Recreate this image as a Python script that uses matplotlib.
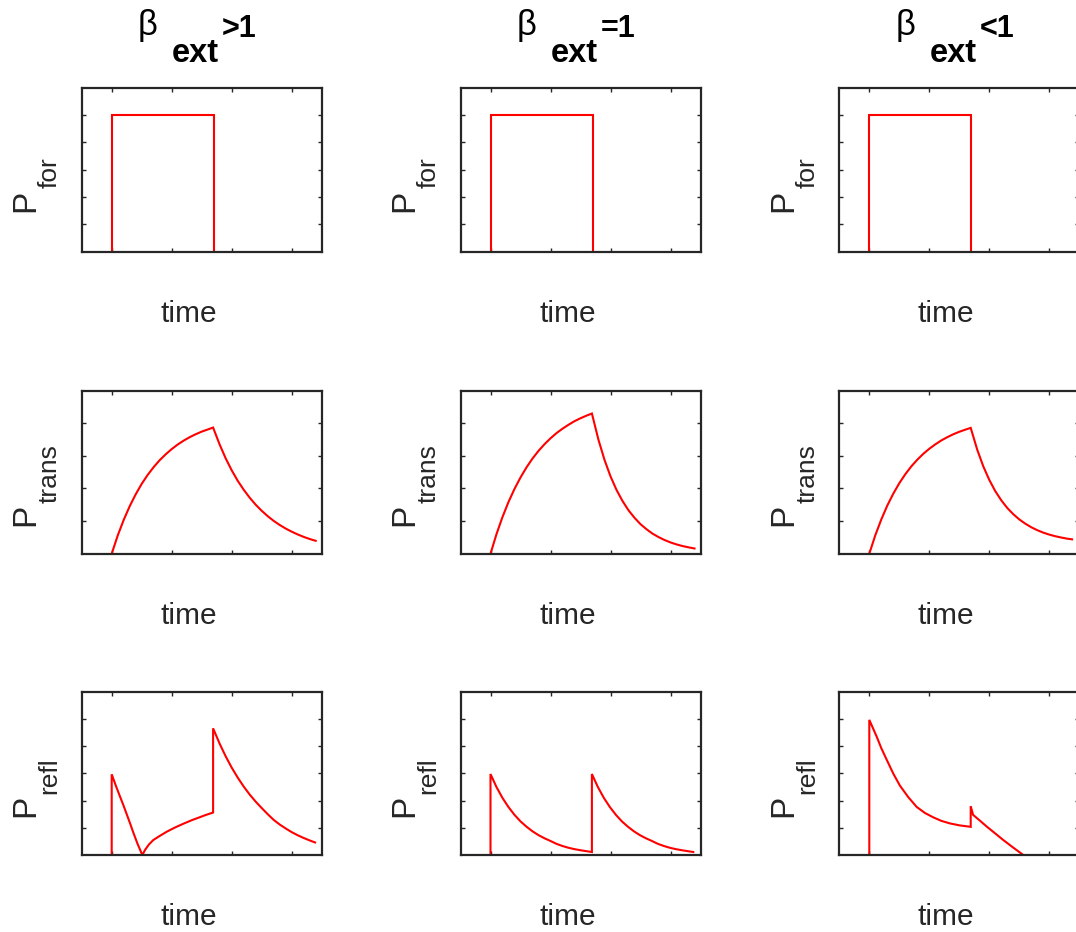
import matplotlib
matplotlib.use("Agg")
import matplotlib.pyplot as plt

plt.rcParams["font.family"] = ["Liberation Sans", "DejaVu Sans"]

# ---- data -------------------------------------------------------------
conditions = [">1", "=1", "<1"]
row_names = ["for", "trans", "refl"]

# forward pulse (same in every column)
t_for = [0.0, 0.0, 1.7, 1.7]
p_for = [0.0, 1.0, 1.0, 0.0]

# transmitted power, one series per coupling case
t_trans_over = [0.0, 0.1, 0.2, 0.3, 0.4, 0.5, 0.6, 0.7, 0.8, 0.9, 1.0, 1.1,
                1.2, 1.3, 1.4, 1.5, 1.6, 1.69,
                1.8, 1.9, 2.0, 2.1, 2.2, 2.3, 2.4, 2.5, 2.6, 2.7, 2.8, 2.9,
                3.0, 3.1, 3.2, 3.3, 3.4]
p_trans_over = [0.0, 0.111, 0.207, 0.291, 0.364, 0.428, 0.483, 0.531, 0.573,
                0.609, 0.641, 0.669, 0.693, 0.714, 0.732, 0.748, 0.761, 0.773,
                0.668, 0.584, 0.511, 0.447, 0.392, 0.343, 0.300, 0.263, 0.230,
                0.201, 0.176, 0.154, 0.135, 0.118, 0.103, 0.090, 0.079]

t_trans_crit = [0.0, 0.1, 0.2, 0.3, 0.4, 0.5, 0.6, 0.7, 0.8, 0.9, 1.0, 1.1,
                1.2, 1.3, 1.4, 1.5, 1.6, 1.69,
                1.8, 1.9, 2.0, 2.1, 2.2, 2.3, 2.4, 2.5, 2.6, 2.7, 2.8, 2.9,
                3.0, 3.1, 3.2, 3.3, 3.4]
p_trans_crit = [0.0, 0.120, 0.225, 0.317, 0.397, 0.467, 0.529, 0.583, 0.630,
                0.671, 0.707, 0.739, 0.766, 0.790, 0.812, 0.830, 0.846, 0.859,
                0.697, 0.575, 0.474, 0.391, 0.323, 0.266, 0.220, 0.181, 0.150,
                0.123, 0.102, 0.084, 0.069, 0.057, 0.047, 0.039, 0.032]

t_trans_under = [0.0, 0.1, 0.2, 0.3, 0.4, 0.5, 0.6, 0.7, 0.8, 0.9, 1.0, 1.1,
                 1.2, 1.3, 1.4, 1.5, 1.6, 1.69,
                 1.8, 1.9, 2.0, 2.1, 2.2, 2.3, 2.4, 2.5, 2.6, 2.7, 2.8, 2.9,
                 3.0, 3.1, 3.2, 3.3, 3.38]
p_trans_under = [0.0, 0.113, 0.210, 0.295, 0.368, 0.432, 0.487, 0.535, 0.576,
                 0.612, 0.643, 0.670, 0.694, 0.714, 0.732, 0.747, 0.760, 0.771,
                 0.636, 0.535, 0.452, 0.383, 0.327, 0.280, 0.242, 0.210, 0.184,
                 0.162, 0.144, 0.129, 0.117, 0.107, 0.099, 0.092, 0.088]

# reflected power
t_refl_over = [0.0, 0.0, 0.07, 0.138, 0.2, 0.25, 0.31, 0.36, 0.43, 0.51,
               0.56, 0.62, 0.693, 0.8, 0.917, 1.05, 1.19, 1.33, 1.47, 1.58,
               1.69, 1.69, 1.8, 1.9, 2.0, 2.1, 2.2, 2.3, 2.4, 2.5, 2.6, 2.7,
               2.8, 2.9, 3.0, 3.1, 3.2, 3.3, 3.39]
p_refl_over = [0.0, 0.593, 0.508, 0.43, 0.36, 0.30, 0.228, 0.165, 0.083, 0.0,
               0.04, 0.077, 0.11, 0.14, 0.171, 0.201, 0.229, 0.255, 0.278,
               0.296, 0.312, 0.931, 0.817, 0.725, 0.642, 0.569, 0.503, 0.444,
               0.392, 0.345, 0.300, 0.258, 0.224, 0.195, 0.168, 0.145, 0.125,
               0.107, 0.092]

t_refl_crit = [0.0, 0.0, 0.1, 0.2, 0.3, 0.4, 0.5, 0.6, 0.7, 0.8, 0.9, 1.0,
               1.1, 1.2, 1.3, 1.4, 1.5, 1.6, 1.69,
               1.69, 1.79, 1.89, 1.99, 2.09, 2.19, 2.29, 2.39, 2.49, 2.59,
               2.69, 2.79, 2.89, 2.99, 3.09, 3.19, 3.29, 3.38]
p_refl_crit = [0.0, 0.595, 0.499, 0.419, 0.352, 0.295, 0.247, 0.208, 0.174,
               0.146, 0.123, 0.103, 0.082, 0.066, 0.053, 0.043, 0.035, 0.028,
               0.022,
               0.595, 0.499, 0.419, 0.352, 0.295, 0.247, 0.208, 0.174, 0.146,
               0.123, 0.103, 0.082, 0.066, 0.053, 0.043, 0.035, 0.028, 0.022]

t_refl_under = [0.0, 0.0, 0.06, 0.123, 0.2, 0.29, 0.4, 0.51, 0.65, 0.79,
                0.93, 1.07, 1.2, 1.345, 1.5, 1.69,
                1.69, 1.73, 1.85, 1.957, 2.1, 2.233, 2.4, 2.567]
p_refl_under = [0.0, 0.993, 0.933, 0.87, 0.785, 0.70, 0.598, 0.51, 0.425,
                0.353, 0.308, 0.276, 0.251, 0.232, 0.218, 0.207,
                0.359, 0.295, 0.250, 0.209, 0.158, 0.11, 0.054, 0.0]

series = [
    [(t_for, p_for), (t_for, p_for), (t_for, p_for)],
    [(t_trans_over, p_trans_over), (t_trans_crit, p_trans_crit),
     (t_trans_under, p_trans_under)],
    [(t_refl_over, p_refl_over), (t_refl_crit, p_refl_crit),
     (t_refl_under, p_refl_under)],
]

x_ticks = [0, 1, 2, 3]
y_ticks = [
    [0.2, 0.4, 0.6, 0.8, 1.0],
    [0.2, 0.4, 0.6, 0.8],
    [0.2, 0.4, 0.6, 0.8, 1.0],
]
y_limits = [(0, 1.2), (0, 1.0), (0, 1.2)]

# ---- layout (pixels) -------------------------------------------------
W, H = 1076, 932
col_left = [81.7, 460.5, 839.3]
ax_w = 240.0
row_top = [87.7, 390.5, 691.7]
row_bot = [251.7, 553.7, 855.0]
# anchor (bottom end) of the rotated "P" and of its subscript, per row
p_anchor = [211.6, 526.0, 817.0]
sub_anchor = [188.0, 502.5, 794.0]

ink = "#262626"
red = "#ff0000"

fig = plt.figure(figsize=(W / 100, H / 100), dpi=100)


def fx(px):
    return px / W


def fy(py):
    return 1 - py / H


for r in range(3):
    for c in range(3):
        left = col_left[c]
        ax = fig.add_axes([fx(left), fy(row_bot[r]), ax_w / W,
                           (row_bot[r] - row_top[r]) / H])
        t, p = series[r][c]
        ax.plot(t, p, color=red, lw=1.5, solid_joinstyle="miter")
        ax.set_xlim(-0.5, 3.5)
        ax.set_ylim(*y_limits[r])
        ax.set_xticks(x_ticks)
        ax.set_yticks(y_ticks[r])
        ax.set_xticklabels([])
        ax.set_yticklabels([])
        ax.tick_params(direction="in", length=3, width=1.0, color=ink,
                       top=True, right=True)
        for s in ax.spines.values():
            s.set_color(ink)
            s.set_linewidth(1.6)

        # x label
        cx = left + ax_w / 2 - 13
        fig.text(fx(cx), fy(row_bot[r] + 70), "time", ha="center",
                 va="baseline", fontsize=21.5, color=ink)

        # y label: P with a lowered subscript
        fig.text(fx(left - 47.4), fy(p_anchor[r]), "P", rotation=90,
                 rotation_mode="anchor", ha="left", va="baseline",
                 fontsize=24, color=ink)
        fig.text(fx(left - 25.0), fy(sub_anchor[r]), row_names[r],
                 rotation=90, rotation_mode="anchor", ha="left",
                 va="baseline", fontsize=19, color=ink)

# column titles: beta with a bold subscript and the comparison
for c in range(3):
    g0 = col_left[c] + ax_w / 2 - 3 - 60
    fig.text(fx(g0 - 1), fy(35.5), "\u03b2", ha="left", va="baseline",
             fontsize=25, color="black")
    fig.text(fx(g0 + 33.5), fy(61.7), "ext", ha="left", va="baseline",
             fontsize=23.5, fontweight="bold", color="black")
    fig.text(fx(g0 + 83.5), fy(37), conditions[c], ha="left",
             va="baseline", fontsize=22, fontweight="bold", color="black")

fig.savefig("out.png", dpi=100, facecolor="white")
